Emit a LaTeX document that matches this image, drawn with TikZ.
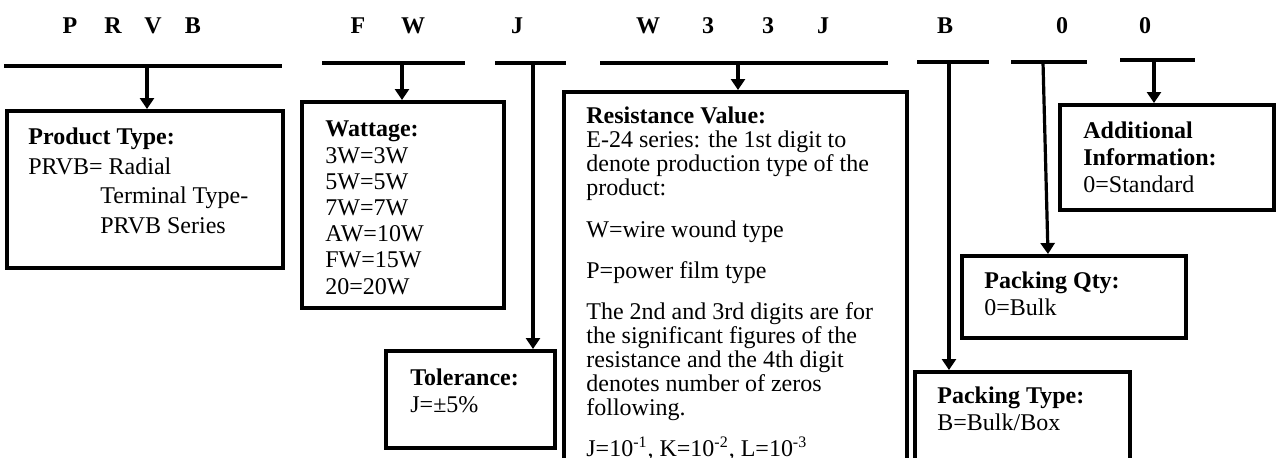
\documentclass[tikz,border=0pt]{standalone}
\usepackage{fontspec}
\setmainfont{Liberation Serif}
\usetikzlibrary{arrows.meta,fit}
\newcommand{\tightlines}{\fontsize{12}{12}\selectfont\lineskiplimit=-20pt\relax}

\begin{document}
\begin{tikzpicture}[x=0.5pt,y=-0.5pt]
	\useasboundingbox (0,0) rectangle (1276,457);
	
	\tikzstyle{letter}=[font=\fontsize{12}{14}\selectfont\bfseries, anchor=base, inner sep=0pt]
	\tikzstyle{bar}=[line width=2.1pt]
	\tikzstyle{box}=[draw, line width=2pt, inner sep=0pt]
	\tikzstyle{info}=[align=left, anchor=base west, inner sep=0pt, font=\fontsize{12}{13.25}\selectfont]
	\tikzstyle{arr}=[line width=2pt, -{Triangle[length=5.5pt,width=7pt]}]
	\tikzstyle{longarr}=[line width=1.6pt, -{Triangle[length=5.5pt,width=7pt]}]
	
	% part number
	\foreach \ch/\x in {P/70,R/113,V/153,B/193,F/358,W/413,J/517,W/648,3/708,3/768,J/823,B/945,0/1062,0/1145}
		\node[letter] (hdr\x) at (\x,33) {\ch};
	
	\draw[bar] (4,66) -- (282,66);
	\draw[bar] (322,63) -- (465,63);
	\draw[bar] (495,63) -- (566,63);
	\draw[bar] (600,63) -- (888,63);
	\draw[bar] (917,62) -- (989,62);
	\draw[bar] (1011,62) -- (1087,62);
	\draw[bar] (1120,60) -- (1195,60);
	
	\coordinate (prvbBar) at (147,66);
	\coordinate (fwBar) at (402,63);
	\coordinate (jBar) at (533,63);
	\coordinate (resBar) at (738,63);
	\coordinate (bBar) at (949,62);
	\coordinate (qtyBar) at (1043,62);
	\coordinate (addBar) at (1154,60);
	
	% boxes
	\node[box, fit={(7,111) (283,268)}] (prodBox) {};
	\node[box, fit={(302,102) (504,308)}] (wattBox) {};
	\node[box, fit={(386,351) (555,448)}] (tolBox) {};
	\node[box, fit={(564,92) (907,480)}] (resBox) {};
	\node[box, fit={(915,372) (1130,464)}] (packTypeBox) {};
	\node[box, fit={(962,256) (1186,338)}] (packQtyBox) {};
	\node[box, fit={(1060,105) (1274,210)}] (addBox) {};
	
	% texts, placed at the baseline of their last line
	\node[info, font=\fontsize{12}{14.75}\selectfont] (prodText) at (28,233) {\textbf{Product Type:}\\PRVB= Radial\\\hspace{36pt}Terminal Type-\\\hspace{36pt}PRVB Series};
	\node[info, font=\fontsize{12}{13.1}\selectfont] (wattText) at (325,294) {\textbf{Wattage:}\\3W=3W\\5W=5W\\7W=7W\\AW=10W\\FW=15W\\20=20W};
	\node[info] (tolText) at (410,412) {\textbf{Tolerance:}\\J=±5\%};
	\node[info, font=\tightlines] (resText) at (586,456) {\textbf{Resistance Value:}\\E-24 series: the 1st digit to\\denote production type of the\\product:\\[9pt]W=wire wound type\\[8.5pt]P=power film type\\[8.5pt]The 2nd and 3rd digits are for\\the significant figures of the\\resistance and the 4th digit\\denotes number of zeros\\following.\\[8.5pt]J=10\textsuperscript{-1}, K=10\textsuperscript{-2}, L=10\textsuperscript{-3}};
	\node[info] (typeText) at (937,430) {\textbf{Packing Type:}\\B=Bulk/Box};
	\node[info] (qtyText) at (984,315) {\textbf{Packing Qty:}\\0=Bulk};
	\node[info, font=\fontsize{12}{13.5}\selectfont] (addText) at (1083,192) {\textbf{Additional}\\\textbf{Information:}\\0=Standard};
	
	\draw[arr] (prvbBar) -- (prvbBar |- prodBox.north);
	\draw[arr] (fwBar) -- (fwBar |- wattBox.north);
	\draw[longarr] (jBar) -- (jBar |- tolBox.north);
	\draw[arr] (resBar) -- (resBar |- resBox.north);
	\draw[longarr] (bBar) -- (bBar |- packTypeBox.north);
	\draw[longarr] (qtyBar) -- ([xshift=2.5pt]qtyBar |- packQtyBox.north);
	\draw[arr] (addBar) -- (addBar |- addBox.north);
	
\end{tikzpicture}
\end{document}
